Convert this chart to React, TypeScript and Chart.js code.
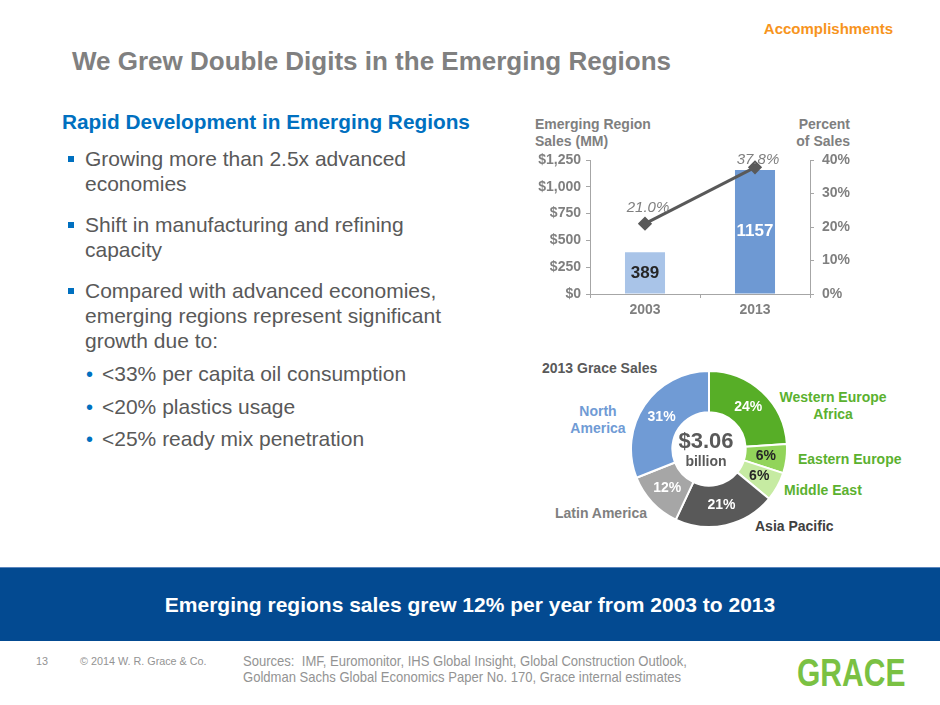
import React, { useEffect, useRef } from 'react';
import { Chart, registerables } from 'chart.js';

Chart.register(...registerables);

const FONT = '"Liberation Sans", Arial, Helvetica, sans-serif';

// ---- Data ----
const years = ['2003', '2013'];
const salesMM = [389, 1157];
const pctOfSales = [21.0, 37.8];
const salesAxisMax = 1250;
const salesAxisStep = 250;
const pctAxisMax = 40;
const pctAxisStep = 10;

const regions = ['Western Europe Africa', 'Eastern Europe', 'Middle East', 'Asia Pacific', 'Latin America', 'North America'];
const regionShares = [24, 6, 6, 21, 12, 31];
const regionColors = ['#57ae27', '#92d45a', '#c6eba2', '#595959', '#a6a6a6', '#709bd5'];
const regionLabelColors = ['#ffffff', '#262626', '#262626', '#ffffff', '#ffffff', '#ffffff'];
const totalSales = '$3.06';

const barColors = ['#a9c4e8', '#6e99d3'];
const pctLabelLift = [16, 8];

const GRAY = '#7f7f7f';
const AXIS = '#a6a6a6';

const barLabelPlugin = {
  id: 'barLabelPlugin',
  afterDatasetsDraw(chart: any) {
    const ctx = chart.ctx;
    const barMeta = chart.getDatasetMeta(1);
    ctx.save();
    ctx.textAlign = 'center';
    ctx.textBaseline = 'middle';
    barMeta.data.forEach((el: any, i: number) => {
      const p = el.getProps(['x', 'y', 'base'], true);
      ctx.font = `bold 17px ${FONT}`;
      ctx.fillStyle = i === 0 ? '#262626' : '#ffffff';
      ctx.fillText(String(salesMM[i]), p.x, (p.y + p.base) / 2);
    });
    const lineMeta = chart.getDatasetMeta(0);
    lineMeta.data.forEach((el: any, i: number) => {
      const p = el.getProps(['x', 'y'], true);
      ctx.font = `italic 15px ${FONT}`;
      ctx.fillStyle = GRAY;
      ctx.fillText(pctOfSales[i].toFixed(1) + '%', p.x + 3, p.y - pctLabelLift[i]);
    });
    ctx.restore();
  },
};

const donutLabelPlugin = {
  id: 'donutLabelPlugin',
  afterDatasetsDraw(chart: any) {
    const ctx = chart.ctx;
    const meta = chart.getDatasetMeta(0);
    ctx.save();
    ctx.textAlign = 'center';
    ctx.textBaseline = 'middle';
    ctx.font = `bold 14px ${FONT}`;
    meta.data.forEach((el: any, i: number) => {
      const p = el.tooltipPosition(true);
      ctx.fillStyle = regionLabelColors[i];
      ctx.fillText(regionShares[i] + '%', p.x, p.y);
    });
    const c = meta.data[0];
    ctx.fillStyle = '#595959';
    ctx.font = `bold 22px ${FONT}`;
    ctx.fillText(totalSales, c.x - 3, c.y - 7);
    ctx.font = `bold 14px ${FONT}`;
    ctx.fillText('billion', c.x - 3, c.y + 13);
    ctx.restore();
  },
};

function BarLineChart() {
  const ref = useRef<HTMLCanvasElement>(null);
  useEffect(() => {
    if (!ref.current) return;
    const tickFont = { family: FONT, size: 14, weight: 'bold' as const };
    const chart = new Chart(ref.current, {
      type: 'bar',
      data: {
        labels: years,
        datasets: [
          {
            type: 'line',
            label: 'Percent of Sales',
            data: pctOfSales,
            yAxisID: 'y1',
            borderColor: '#595959',
            borderWidth: 3,
            pointStyle: 'rectRot',
            pointRadius: 5,
            pointBackgroundColor: '#595959',
            pointBorderColor: '#595959',
            order: 0,
          } as any,
          {
            type: 'bar',
            label: 'Emerging Region Sales (MM)',
            data: salesMM,
            yAxisID: 'y',
            backgroundColor: barColors,
            barPercentage: 0.364,
            categoryPercentage: 1,
            order: 1,
          },
        ],
      },
      options: {
        animation: false,
        responsive: false,
        maintainAspectRatio: false,
        layout: { padding: { top: 10, left: 0, right: 0, bottom: 0 } },
        plugins: { legend: { display: false }, tooltip: { enabled: false } },
        scales: {
          x: {
            offset: true,
            grid: { display: true, drawOnChartArea: false, tickLength: 4, color: AXIS, offset: true },
            border: { color: AXIS, width: 1 },
            ticks: { color: GRAY, font: tickFont, padding: 4 },
            afterFit: (s: any) => { s.height = 31; s.paddingLeft = 0; s.paddingRight = 0; },
          },
          y: {
            position: 'left',
            min: 0,
            max: salesAxisMax,
            grid: { drawOnChartArea: false, tickLength: 4, color: AXIS },
            border: { color: AXIS, width: 1 },
            ticks: {
              stepSize: salesAxisStep,
              color: GRAY,
              font: tickFont,
              padding: 5,
              callback: (v: any) => '$' + Number(v).toLocaleString('en-US'),
            },
            afterFit: (s: any) => { s.width = 70; s.paddingTop = 0; s.paddingBottom = 0; },
          },
          y1: {
            position: 'right',
            min: 0,
            max: pctAxisMax,
            grid: { drawOnChartArea: false, tickLength: 4, color: AXIS },
            border: { color: AXIS, width: 1 },
            ticks: {
              stepSize: pctAxisStep,
              color: GRAY,
              font: tickFont,
              padding: 8,
              callback: (v: any) => v + '%',
            },
            afterFit: (s: any) => { s.width = 60; s.paddingTop = 0; s.paddingBottom = 0; },
          },
        },
      },
      plugins: [barLabelPlugin],
    });
    return () => chart.destroy();
  }, []);
  return (
    <canvas
      ref={ref}
      width={350}
      height={175}
      style={{ position: 'absolute', left: 520, top: 150, width: 350, height: 175 }}
    />
  );
}

function DonutChart() {
  const ref = useRef<HTMLCanvasElement>(null);
  useEffect(() => {
    if (!ref.current) return;
    const chart = new Chart(ref.current, {
      type: 'doughnut',
      data: {
        labels: regions,
        datasets: [
          {
            data: regionShares,
            backgroundColor: regionColors,
            borderColor: '#ffffff',
            borderWidth: 2,
          },
        ],
      },
      options: {
        animation: false,
        responsive: false,
        maintainAspectRatio: false,
        cutout: '47%',
        layout: { padding: 0 },
        plugins: { legend: { display: false }, tooltip: { enabled: false } },
      },
      plugins: [donutLabelPlugin],
    });
    return () => chart.destroy();
  }, []);
  return (
    <canvas
      ref={ref}
      width={158}
      height={158}
      style={{ position: 'absolute', left: 630, top: 370, width: 158, height: 158 }}
    />
  );
}

type TProps = {
  x: number;
  y: number;
  align?: 'left' | 'center' | 'right';
  size: number;
  color: string;
  bold?: boolean;
  italic?: boolean;
  family?: string;
  squeeze?: number;
  children: React.ReactNode;
  extra?: React.CSSProperties;
};

function T({ x, y, align = 'left', size, color, bold, italic, family = FONT, squeeze, children, extra }: TProps) {
  const tx = align === 'center' ? '-50%' : align === 'right' ? '-100%' : '0';
  const sq = squeeze ? ` scaleX(${squeeze})` : '';
  return (
    <div
      style={{
        position: 'absolute',
        left: x,
        top: y,
        transform: `translate(${tx}, -50%)${sq}`,
        transformOrigin: 'left center',
        fontFamily: family,
        fontSize: size,
        fontWeight: bold ? 'bold' : 'normal',
        fontStyle: italic ? 'italic' : 'normal',
        color,
        whiteSpace: 'nowrap',
        lineHeight: 1.15,
        ...extra,
      }}
    >
      {children}
    </div>
  );
}

const BODY = '#595959';
const BLUE = '#0070c0';
const GREEN = '#5bb12f';
const FOOT = '#939393';

function Square({ x, y }: { x: number; y: number }) {
  return <div style={{ position: 'absolute', left: x, top: y - 3, width: 6, height: 6, background: BLUE }} />;
}

export default function App() {
  return (
    <div
      style={{
        position: 'absolute',
        left: 0,
        top: 0,
        width: 940,
        height: 705,
        background: '#ffffff',
        overflow: 'hidden',
        fontFamily: FONT,
      }}
    >
      <T x={893} y={29} align="right" size={15} color="#f7941d" bold>Accomplishments</T>
      <T x={72} y={62} size={26} color="#808080" bold>We Grew Double Digits in the Emerging Regions</T>

      <T x={62} y={122} size={20.8} color={BLUE} bold>Rapid Development in Emerging Regions</T>
      <Square x={68} y={159} />
      <T x={85} y={159} size={21} color={BODY}>Growing more than 2.5x advanced</T>
      <T x={85} y={184} size={21} color={BODY}>economies</T>
      <Square x={68} y={225} />
      <T x={85} y={225} size={21} color={BODY}>Shift in manufacturing and refining</T>
      <T x={85} y={250} size={21} color={BODY}>capacity</T>
      <Square x={68} y={291} />
      <T x={85} y={291} size={21} color={BODY}>Compared with advanced economies,</T>
      <T x={85} y={316} size={21} color={BODY}>emerging regions represent significant</T>
      <T x={85} y={341} size={21} color={BODY}>growth due to:</T>
      <T x={86} y={374} size={20} color={BLUE}>•</T>
      <T x={102} y={374} size={21} color={BODY}>&lt;33% per capita oil consumption</T>
      <T x={86} y={407} size={20} color={BLUE}>•</T>
      <T x={102} y={407} size={21} color={BODY}>&lt;20% plastics usage</T>
      <T x={86} y={439} size={20} color={BLUE}>•</T>
      <T x={102} y={439} size={21} color={BODY}>&lt;25% ready mix penetration</T>

      <T x={535} y={124} size={14} color={GRAY} bold>Emerging Region</T>
      <T x={535} y={141} size={14} color={GRAY} bold>Sales (MM)</T>
      <T x={850} y={124} align="right" size={14} color={GRAY} bold>Percent</T>
      <T x={850} y={141} align="right" size={14} color={GRAY} bold>of Sales</T>
      <BarLineChart />

      <T x={542} y={368} size={14} color="#595959" bold>2013 Grace Sales</T>
      <T x={598} y={411} align="center" size={14} color="#709bd5" bold>North</T>
      <T x={598} y={428} align="center" size={14} color="#709bd5" bold>America</T>
      <T x={833} y={397} align="center" size={14} color={GREEN} bold>Western Europe</T>
      <T x={833} y={414} align="center" size={14} color={GREEN} bold>Africa</T>
      <T x={798} y={459} size={14} color={GREEN} bold>Eastern Europe</T>
      <T x={784} y={490} size={14} color={GREEN} bold>Middle East</T>
      <T x={755} y={526} size={14} color="#404040" bold>Asia Pacific</T>
      <T x={555} y={513} size={14} color="#808080" bold>Latin America</T>
      <DonutChart />

      <div
        style={{
          position: 'absolute',
          left: 0,
          top: 567,
          width: 940,
          height: 74,
          background: '#034a91',
          borderTop: '1px solid #5b86bd',
          boxSizing: 'border-box',
        }}
      />
      <T x={470} y={605} align="center" size={21} color="#ffffff" bold>
        Emerging regions sales grew 12% per year from 2003 to 2013
      </T>

      <T x={36} y={661} size={11} color={FOOT} squeeze={0.98}>13</T>
      <T x={80} y={661} size={11} color={FOOT} squeeze={0.98}>© 2014 W. R. Grace &amp; Co.</T>
      <T x={243} y={661} size={15} color={FOOT} squeeze={0.87}>
        Sources:&nbsp; IMF, Euromonitor, IHS Global Insight, Global Construction Outlook,
      </T>
      <T x={243} y={677} size={15} color={FOOT} squeeze={0.87}>
        Goldman Sachs Global Economics Paper No. 170, Grace internal estimates
      </T>
      <T x={797} y={674} size={38} color="#7ac143" bold squeeze={0.79}>
        GRACE
      </T>
    </div>
  );
}
